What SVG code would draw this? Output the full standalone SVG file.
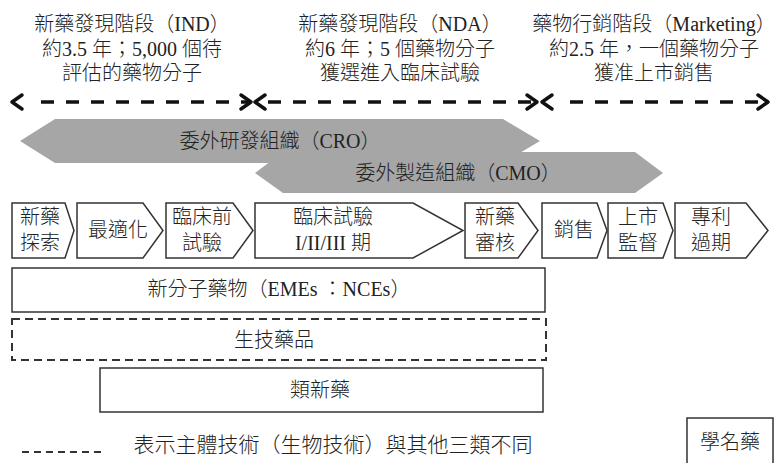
<svg xmlns="http://www.w3.org/2000/svg" width="779" height="463" viewBox="0 0 779 463">
<style>
text{font-family:"Liberation Serif","Noto Sans CJK TC",serif;font-size:20px;font-weight:300;fill:#222;text-anchor:middle}
.box{fill:#fff;stroke:#333;stroke-width:1.5}
.dbox{fill:none;stroke:#333;stroke-width:2;stroke-dasharray:8 5}
.band{fill:#a6a6a6}
.dash{stroke:#111;stroke-width:3.5;stroke-dasharray:13 12;fill:none}
.head{stroke:#111;stroke-width:3.5;fill:none;stroke-linecap:round;stroke-linejoin:round}
</style>
<rect width="779" height="463" fill="#fff"/>
<g id="header-ind">
<text x="132" y="31">新藥發現階段（IND）</text>
<text x="132" y="56">約3.5 年；5,000 個待</text>
<text x="132" y="80">評估的藥物分子</text>
</g>
<g id="header-nda">
<text x="400" y="31">新藥發現階段（NDA）</text>
<text x="400" y="56">約6 年；5 個藥物分子</text>
<text x="400" y="80">獲選進入臨床試驗</text>
</g>
<g id="header-marketing">
<text x="654" y="31">藥物行銷階段（Marketing）</text>
<text x="654" y="56">約2.5 年，一個藥物分子</text>
<text x="654" y="80">獲准上市銷售</text>
</g>
<g id="connectors">
<line class="dash" x1="41" y1="102" x2="251" y2="102"/>
<line class="dash" x1="268" y1="102" x2="537" y2="102"/>
<line class="dash" x1="570" y1="102" x2="768" y2="102"/>
<polyline class="head" points="22,95 12,102 22,109"/>
<polyline class="head" points="241,95 251,102 241,109"/>
<polyline class="head" points="265,95 255,102 265,109"/>
<polyline class="head" points="527,95 537,102 527,109"/>
<polyline class="head" points="552,95 542,102 552,109"/>
<polyline class="head" points="758,95 768,102 758,109"/>
</g>
<g id="cro">
<polygon class="band" points="20,141 55,119 503,119 540,141 503,163 55,163"/>
<text x="280" y="148">委外研發組織（CRO）</text>
</g>
<g id="cmo">
<polygon class="band" points="255,173 283,152 635,152 663,173 635,193 283,193"/>
<text x="458" y="180">委外製造組織（CMO）</text>
</g>
<g id="step1">
<polygon class="box" points="12,203 65,203 74,230.5 65,258 12,258"/>
<text x="40" y="224">新藥</text><text x="40" y="250">探索</text>
</g>
<g id="step2">
<polygon class="box" points="77,203 143,203 163,230.5 143,258 77,258"/>
<text x="118" y="237">最適化</text>
</g>
<g id="step3">
<polygon class="box" points="166,203 233,203 253,230.5 233,258 166,258"/>
<text x="202" y="224">臨床前</text><text x="202" y="250">試驗</text>
</g>
<g id="step4">
<polygon class="box" points="255,203 413,203 463,230.5 413,258 255,258"/>
<text x="333" y="224">臨床試驗</text><text x="333" y="250">I/II/III 期</text>
</g>
<g id="step5">
<polygon class="box" points="465,203 518,203 538,230.5 518,258 465,258"/>
<text x="495" y="224">新藥</text><text x="495" y="250">審核</text>
</g>
<g id="step6">
<polygon class="box" points="542,203 597,203 607,230.5 597,258 542,258"/>
<text x="574" y="237">銷售</text>
</g>
<g id="step7">
<polygon class="box" points="608,203 663,203 673,230.5 663,258 608,258"/>
<text x="638" y="224">上市</text><text x="638" y="250">監督</text>
</g>
<g id="step8">
<polygon class="box" points="675,203 746,203 768,230.5 746,258 675,258"/>
<text x="711" y="224">專利</text><text x="711" y="250">過期</text>
</g>
<g id="nce">
<rect class="box" x="12" y="268" width="533" height="44"/>
<text x="279" y="296">新分子藥物（EMEs ：NCEs）</text>
</g>
<g id="biotech">
<rect class="dbox" x="12" y="319" width="534" height="41"/>
<text x="274" y="347">生技藥品</text>
</g>
<g id="similar">
<rect class="box" x="100" y="368" width="443" height="44"/>
<text x="320" y="397">類新藥</text>
</g>
<g id="legend">
<line x1="22" y1="452" x2="104" y2="452" stroke="#333" stroke-width="2" stroke-dasharray="7 5"/>
<text x="333" y="452" style="font-size:21px">表示主體技術（生物技術）與其他三類不同</text>
</g>
<g id="generic">
<rect class="box" x="687" y="418" width="86" height="60"/>
<text x="730" y="449">學名藥</text>
</g>
</svg>
